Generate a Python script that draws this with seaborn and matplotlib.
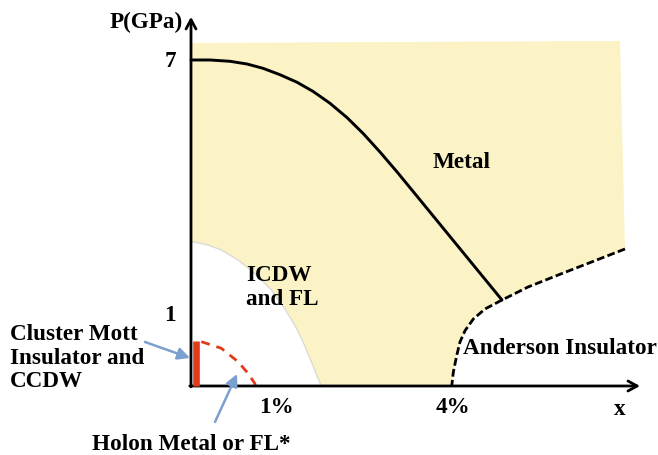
import numpy as np
import pandas as pd
import matplotlib
matplotlib.use("Agg")
import matplotlib.pyplot as plt
import seaborn as sns

# ---- data (schematic units: doping x, pressure P) ----
metal_x = [0.0, 0.322, 0.661, 0.949, 1.220, 1.508, 1.797, 2.068, 2.356, 2.644,
           2.915, 3.203, 3.492, 3.763, 4.051, 4.339, 4.610, 4.898, 5.271]
metal_p = [7.799, 7.799, 7.768, 7.703, 7.600, 7.447, 7.266, 7.048, 6.763, 6.421,
           6.045, 5.598, 5.122, 4.656, 4.160, 3.663, 3.196, 2.699, 2.057]

anderson_x = [7.356, 6.847, 6.266, 5.712, 5.271, 4.983, 4.785, 4.644, 4.559, 4.503, 4.446, 4.419]
anderson_p = [3.278, 2.998, 2.679, 2.368, 2.057, 1.842, 1.603, 1.323, 1.053, 0.725, 0.328, 0.0]

icdw_x = [0.0, 0.034, 0.288, 0.514, 0.797, 1.080, 1.361, 1.588, 1.758, 1.898, 2.039, 2.153, 2.208]
icdw_p = [3.46, 3.452, 3.373, 3.254, 3.014, 2.696, 2.297, 1.849, 1.459, 1.060, 0.581, 0.184, 0.0]

holon_x = [0.175, 0.514, 0.797, 0.966, 1.080, 1.093]
holon_p = [1.060, 0.902, 0.581, 0.304, 0.065, 0.0]

metal_top_x = [0.0, 7.271]
metal_top_p = [8.206, 8.254]

cmi_p = [0.0, 1.077]

tick_x_labels = ["1%", "4%"]
tick_x_pos = [1.44, 4.44]
tick_p_labels = ["7", "1"]
tick_p_pos = [7.775, 1.72]

YELLOW = "#fbf2c6"
RED = "#e33b1a"
BLUE = "#7b9fcf"

sns.set_theme(style="white")
plt.rcParams["font.family"] = ["Liberation Serif", "DejaVu Serif"]

fig = plt.figure(figsize=(6.58, 4.56), dpi=100)
ax = fig.add_axes([0, 0, 1, 1])
ax.set_xlim(-3.237, 7.915)
ax.set_ylim(-1.651, 9.258)
ax.axis("off")

# Metal (yellow) region
poly_x = ([metal_top_x[0], metal_top_x[1]] + anderson_x + icdw_x[::-1])
poly_p = ([metal_top_p[0], metal_top_p[1]] + anderson_p + icdw_p[::-1])
ax.fill(poly_x, poly_p, color=YELLOW, lw=0, zorder=1)
# faint edge of the white ICDW dome
sns.lineplot(x=icdw_x, y=icdw_p, sort=False, ax=ax, color="#dcdcd4", lw=1.0, zorder=2, estimator=None)

# phase boundaries
sns.lineplot(x=metal_x, y=metal_p, sort=False, ax=ax, color="black", lw=2.1, zorder=4, estimator=None)
sns.lineplot(x=anderson_x, y=anderson_p, sort=False, ax=ax, color="black", lw=2.0,
             linestyle=(0, (2.8, 1.2)), zorder=4, estimator=None)
sns.lineplot(x=holon_x, y=holon_p, sort=False, ax=ax, color=RED, lw=2.0,
             linestyle=(0, (3.2, 2.5)), zorder=4, estimator=None)

# axes arrows
ax.annotate("", xy=(0, 8.83), xytext=(0, -0.02),
            arrowprops=dict(arrowstyle="->,head_length=0.55,head_width=0.3", lw=2.0, color="black",
                            shrinkA=0, shrinkB=0), zorder=5)
ax.annotate("", xy=(7.61, 0), xytext=(-0.02, 0),
            arrowprops=dict(arrowstyle="->,head_length=0.55,head_width=0.3", lw=2.0, color="black",
                            shrinkA=0, shrinkB=0), zorder=5)

# cluster Mott insulator bar
sns.lineplot(x=[0.085, 0.085], y=cmi_p, ax=ax, color=RED, lw=4.8, zorder=6, estimator=None,
             solid_capstyle="butt")

# blue arrows
ax.annotate("", xy=(-0.017, 0.67), xytext=(-0.78, 1.053),
            arrowprops=dict(arrowstyle="-|>,head_length=0.6,head_width=0.3", lw=1.8, color=BLUE,
                            shrinkA=0, shrinkB=0), zorder=7)
ax.annotate("", xy=(0.78, 0.287), xytext=(0.407, -0.861),
            arrowprops=dict(arrowstyle="-|>,head_length=0.6,head_width=0.3", lw=1.8, color=BLUE,
                            shrinkA=0, shrinkB=0), zorder=7)

fs = 16.7
tkw = dict(fontsize=fs, fontweight="bold", color="black", zorder=8)
ax.text(-0.136, 8.73, "P(GPa)", ha="right", va="center", **tkw)
for lab, pos in zip(tick_p_labels, tick_p_pos):
    ax.text(-0.25, pos, lab, ha="right", va="center", **tkw)
for lab, pos in zip(tick_x_labels, tick_x_pos):
    ax.text(pos, -0.48, lab, ha="center", va="center", **tkw)
ax.text(7.27, -0.55, "x", ha="center", va="center", **tkw)
ax.text(4.59, 5.38, "Metal", ha="center", va="center", **tkw)
ax.text(0.93, 2.38, "ICDW\nand FL", ha="left", va="center", linespacing=1.2, **tkw)
ax.text(4.61, 0.93, "Anderson Insulator", ha="left", va="center", **tkw)
ax.text(-3.07, 0.69, "Cluster Mott\nInsulator and\nCCDW", ha="left", va="center", linespacing=1.15, **tkw)
ax.text(-1.68, -1.37, "Holon Metal or FL*", ha="left", va="center", **tkw)

fig.savefig("out.png", dpi=100)
